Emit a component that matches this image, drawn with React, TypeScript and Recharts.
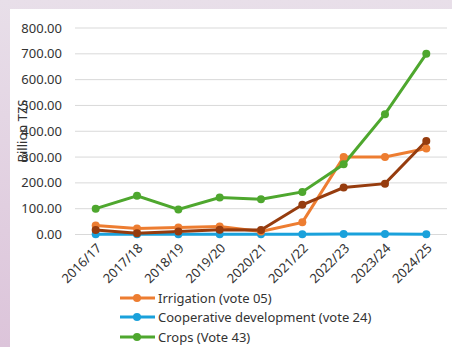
import React from 'react';
import { LineChart, Line, XAxis, YAxis, CartesianGrid, Legend } from 'recharts';

const years = ['2016/17', '2017/18', '2018/19', '2019/20', '2020/21', '2021/22', '2022/23', '2023/24', '2024/25'];
const irrigation = [35, 23, 27, 31, 12, 47, 300, 300, 333];
const cooperative = [1, 1, 1, 1, 1, 1, 2, 2, 1];
const crops = [100, 150, 97, 143, 137, 165, 272, 466, 700];
const other = [17, 5, 12, 18, 17, 115, 182, 197, 362];
const yTicks = [0, 100, 200, 300, 400, 500, 600, 700, 800];

const data = years.map((year, i) => ({
  year,
  irrigation: irrigation[i],
  cooperative: cooperative[i],
  crops: crops[i],
  other: other[i],
}));

const legendItems = [
  { label: 'Irrigation (vote 05)', color: '#ED7D31' },
  { label: 'Cooperative development (vote 24)', color: '#1AA1DB' },
  { label: 'Crops (Vote 43)', color: '#4EA72E' },
];

const FONT = '"Noto Sans", "Open Sans", sans-serif';

const CustomLegend = () => (
  <div style={{ fontFamily: FONT, fontSize: 13, color: '#333' }}>
    {legendItems.map((it) => (
      <div key={it.label} style={{ display: 'flex', alignItems: 'center', height: 19.5 }}>
        <svg width={37} height={10} style={{ marginRight: 2 }}>
          <line x1={1} y1={5} x2={36} y2={5} stroke={it.color} strokeWidth={3} />
          <circle cx={18} cy={5} r={4} fill={it.color} />
        </svg>
        <span>{it.label}</span>
      </div>
    ))}
  </div>
);

const YLabel = () => (
  <text
    x={12}
    y={122}
    transform="rotate(-90 12 122)"
    textAnchor="middle"
    dominantBaseline="central"
    fontSize={13}
    fill="#333"
    fontFamily={FONT}
  >
    Billion TZS
  </text>
);

const App = () => {
  return (
    <div
      style={{
        position: 'fixed',
        left: 0,
        top: 0,
        width: 452,
        height: 347,
        background: 'linear-gradient(180deg, #e8dfe9 0%, #dcc4da 100%)',
      }}
    >
      <div style={{ position: 'absolute', left: 10, top: 9, width: 442, height: 338, background: '#fff' }}>
        <LineChart width={442} height={338} data={data} margin={{ top: 19, right: 5, left: 0, bottom: 0 }}>
          <CartesianGrid vertical={false} stroke="#d9d9d9" />
          <XAxis
            dataKey="year"
            axisLine={false}
            tickLine={false}
            interval={0}
            padding={{ left: 20.7, right: 20.7 }}
            height={54}
            angle={-45}
            textAnchor="end"
            tick={{ fontSize: 13, fill: '#333', fontFamily: FONT }}
            tickMargin={2}
          />
          <YAxis
            width={65}
            domain={[0, 800]}
            ticks={yTicks}
            axisLine={false}
            tickLine={false}
            tickMargin={7}
            tickFormatter={(v: number) => v.toFixed(2)}
            tick={{ fontSize: 13, fill: '#333', fontFamily: FONT }}
            label={{ content: <YLabel /> }}
          />
          <Legend
            content={<CustomLegend />}
            wrapperStyle={{ left: 109, top: 279, width: 320 }}
          />
          <Line dataKey="cooperative" stroke="#1AA1DB" strokeWidth={3} dot={{ r: 4, fill: '#1AA1DB', strokeWidth: 0 }} isAnimationActive={false} />
          <Line dataKey="irrigation" stroke="#ED7D31" strokeWidth={3} dot={{ r: 4, fill: '#ED7D31', strokeWidth: 0 }} isAnimationActive={false} />
          <Line dataKey="other" stroke="#963C0E" strokeWidth={3} dot={{ r: 4, fill: '#963C0E', strokeWidth: 0 }} isAnimationActive={false} />
          <Line dataKey="crops" stroke="#4EA72E" strokeWidth={3} dot={{ r: 4, fill: '#4EA72E', strokeWidth: 0 }} isAnimationActive={false} />
        </LineChart>
      </div>
    </div>
  );
};

export default App;
